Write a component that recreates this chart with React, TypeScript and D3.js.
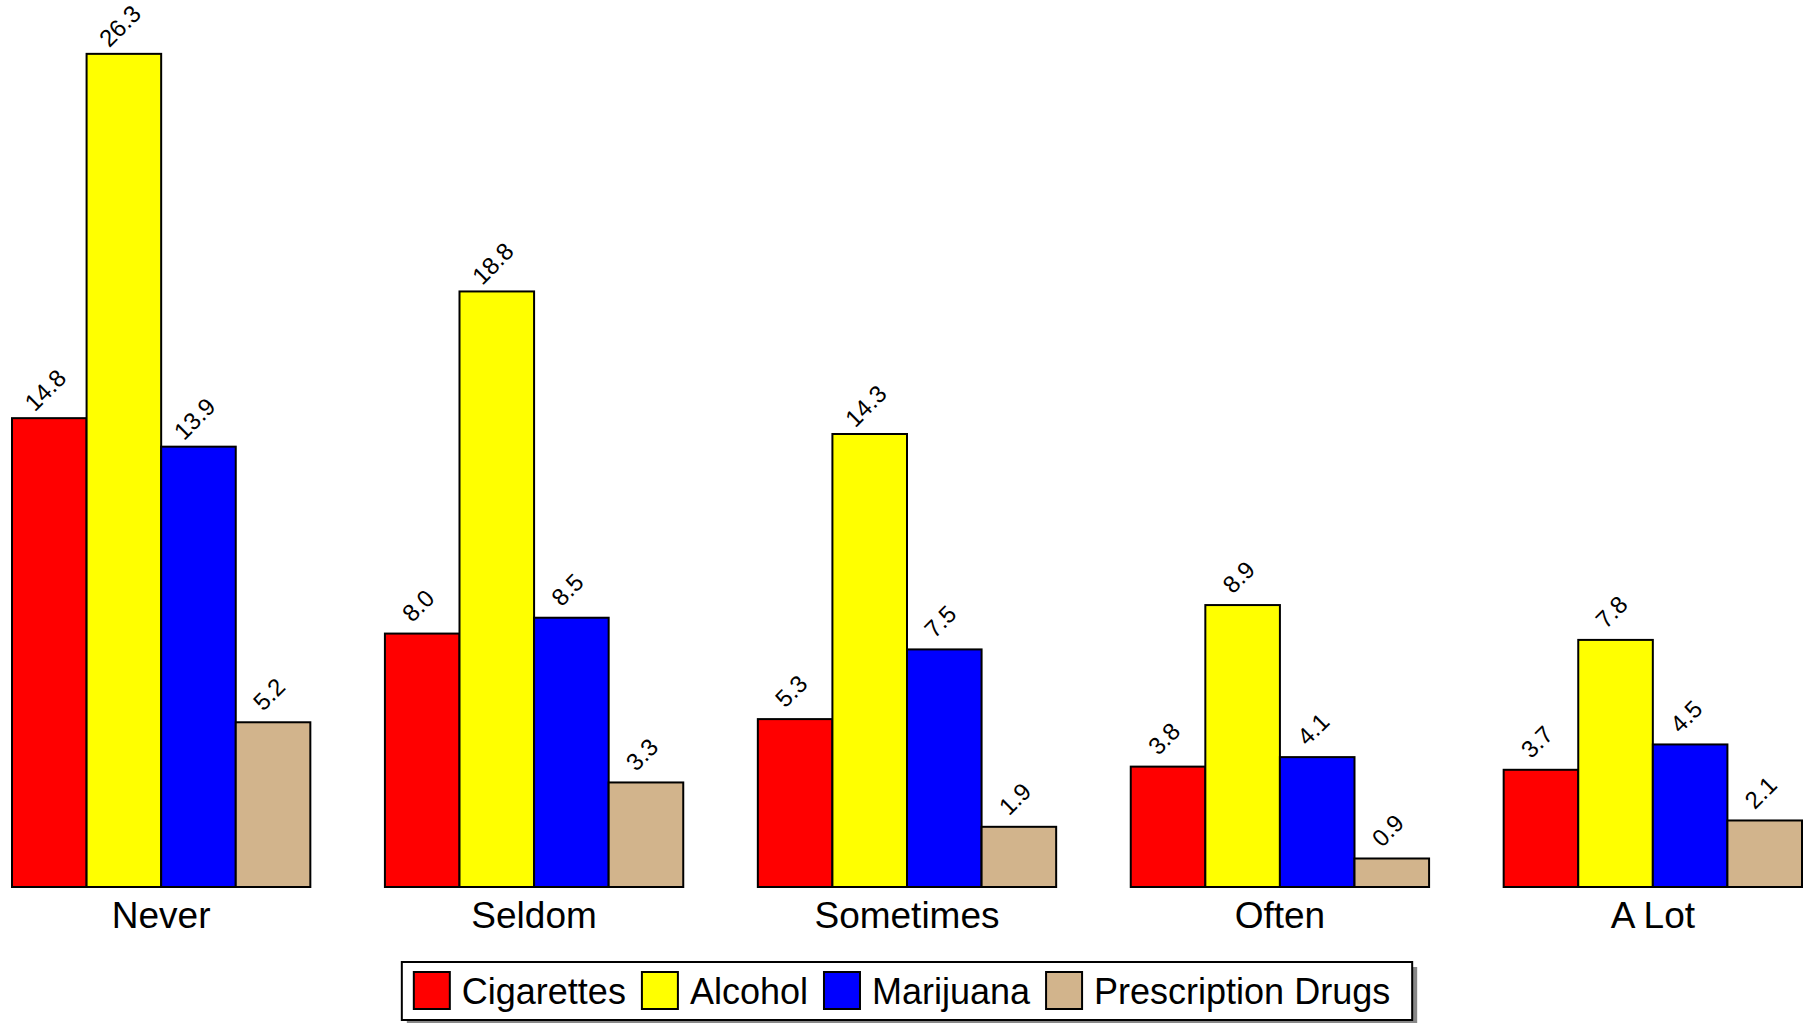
import React, { useEffect, useRef } from 'react';
import * as d3 from 'd3';

// categories and series
const categories = ['Never', 'Seldom', 'Sometimes', 'Often', 'A Lot'];
const seriesNames = ['Cigarettes', 'Alcohol', 'Marijuana', 'Prescription Drugs'];
const seriesColors = ['#ff0000', '#ffff00', '#0000ff', '#d2b48c'];

const cigarettes = [14.8, 8.0, 5.3, 3.8, 3.7];
const alcohol = [26.3, 18.8, 14.3, 8.9, 7.8];
const marijuana = [13.9, 8.5, 7.5, 4.1, 4.5];
const prescriptionDrugs = [5.2, 3.3, 1.9, 0.9, 2.1];

const seriesValues = [cigarettes, alcohol, marijuana, prescriptionDrugs];

interface BarDatum {
  category: string;
  series: string;
  value: number;
  color: string;
}

const App = () => {
  const chartRef = useRef<SVGSVGElement>(null);

  useEffect(() => {
    if (chartRef.current) {
      drawChart();
    }
  }, []);

  const drawChart = () => {
    const svg = d3.select(chartRef.current);
    svg.selectAll('*').remove();

    const font = '"Liberation Sans", Arial, sans-serif';

    // group scale + inner scale
    const x0 = d3.scaleBand<string>()
      .domain(categories)
      .range([12, 1802])
      .paddingInner(0.2)
      .paddingOuter(0);

    const x1 = d3.scaleBand<string>()
      .domain(seriesNames)
      .range([0, x0.bandwidth()])
      .padding(0);

    const y = d3.scaleLinear()
      .domain([0, 28])
      .range([887, 0]);

    const data: BarDatum[] = [];
    categories.forEach((c, ci) => {
      seriesNames.forEach((s, si) => {
        data.push({ category: c, series: s, value: seriesValues[si][ci], color: seriesColors[si] });
      });
    });

    // bars
    svg.append('g')
      .selectAll('rect')
      .data(data)
      .enter()
      .append('rect')
      .attr('x', d => (x0(d.category) || 0) + (x1(d.series) || 0))
      .attr('y', d => y(d.value))
      .attr('width', x1.bandwidth())
      .attr('height', d => y(0) - y(d.value))
      .attr('fill', d => d.color)
      .attr('stroke', '#000')
      .attr('stroke-width', 2);

    // value labels, rotated
    svg.append('g')
      .selectAll('text')
      .data(data)
      .enter()
      .append('text')
      .attr('transform', d => {
        const cx = (x0(d.category) || 0) + (x1(d.series) || 0) + x1.bandwidth() / 2;
        return `translate(${cx - 4},${y(d.value) - 28}) rotate(-45)`;
      })
      .attr('text-anchor', 'middle')
      .attr('dy', '0.35em')
      .style('font-family', font)
      .style('font-size', '24px')
      .attr('fill', '#000')
      .text(d => d.value.toFixed(1));

    // category labels
    svg.append('g')
      .selectAll('text')
      .data(categories)
      .enter()
      .append('text')
      .attr('x', d => (x0(d) || 0) + x0.bandwidth() / 2)
      .attr('y', 928)
      .attr('text-anchor', 'middle')
      .style('font-family', font)
      .style('font-size', '37px')
      .attr('fill', '#000')
      .text(d => d);

    // legend
    const legend = svg.append('g');
    const sw = 36;
    const gapAfterSwatch = 12;
    const gapAfterText = 16;
    const items = legend.selectAll('g.item')
      .data(seriesNames)
      .enter()
      .append('g')
      .attr('class', 'item');

    items.append('rect')
      .attr('width', sw)
      .attr('height', 37)
      .attr('y', -19)
      .attr('fill', (d, i) => seriesColors[i])
      .attr('stroke', '#000')
      .attr('stroke-width', 2);

    items.append('text')
      .attr('x', sw + gapAfterSwatch)
      .attr('y', 13)
      .style('font-family', font)
      .style('font-size', '36px')
      .attr('fill', '#000')
      .text(d => d);

    const offsets: number[] = [];
    let cursor = 0;
    items.each(function () {
      const g = d3.select(this);
      offsets.push(cursor);
      const tw = (g.select('text').node() as SVGTextElement).getComputedTextLength();
      cursor += sw + gapAfterSwatch + tw + gapAfterText;
    });
    const contentW = cursor - gapAfterText;
    const padL = 12;
    const padR = 22;
    const boxW = contentW + padL + padR;
    const boxH = 58;
    const centerX = (x0.range()[0] + x0.range()[1]) / 2;
    const boxX = centerX - boxW / 2;
    const boxY = 962;

    legend.insert('rect', ':first-child')
      .attr('x', boxX)
      .attr('y', boxY)
      .attr('width', boxW)
      .attr('height', boxH)
      .attr('fill', '#fff')
      .attr('stroke', '#000')
      .attr('stroke-width', 2);

    legend.insert('rect', ':first-child')
      .attr('x', boxX + 5)
      .attr('y', boxY + 5)
      .attr('width', boxW)
      .attr('height', boxH)
      .attr('fill', '#888');

    items.attr('transform', (d, i) => `translate(${boxX + padL + offsets[i]},${boxY + boxH / 2})`);
  };

  return (
    <svg
      ref={chartRef}
      width={1806}
      height={1023}
      style={{ position: 'absolute', left: 0, top: 0, background: '#fff' }}
    />
  );
};

export default App;
